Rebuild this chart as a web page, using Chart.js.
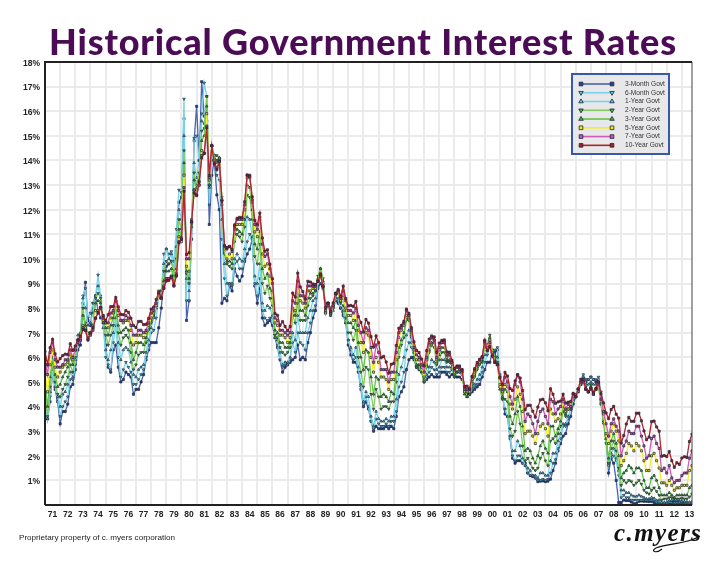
<!DOCTYPE html>
<html>
<head>
<meta charset="utf-8">
<title>Historical Government Interest Rates</title>
<script src="https://cdn.jsdelivr.net/npm/chart.js@4"></script>
<style>
    html, body { margin: 0; background: #fff; }
    #page { position: relative; width: 722px; height: 561px; overflow: hidden; }
    #page canvas { position: absolute; left: 0; top: 0; }
    h1 {
        position: absolute; left: 49px; top: 19px; margin: 0;
        font: 900 36px Lato, sans-serif; letter-spacing: 0.85px;
        color: #4b0b55; white-space: nowrap;
    }
    #footer {
        position: absolute; left: 19px; top: 533px;
        font: 8.1px "Liberation Sans", sans-serif; color: #222;
    }
    #sign {
        position: absolute; left: 614px; top: 519px;
        font: italic bold 25px "Liberation Serif", serif; letter-spacing: 1.4px; color: #111;
        white-space: nowrap;
    }
    #swash { position: absolute; left: 600px; top: 525px; }
</style>
</head>
<body>
<div id="page">
    <canvas id="rates" width="722" height="561"></canvas>
    <h1>Historical Government Interest Rates</h1>
    <div id="footer">Proprietary property of c. myers corporation</div>
    <div id="sign">c.myers</div>
    <svg id="swash" width="110" height="30"><path d="M62 24 C 56 29 50 26 56 23 C 70 18 88 19 100 11" fill="none" stroke="#111" stroke-width="1.2"/></svg>
</div>

<script>
// One value every two months (Jan, Mar, May, Jul, Sep, Nov), Jan 1971 to Sep 2013
var firstYear = 1971;
var lastMonthPos = 2013 + 8 / 12;

var seriesNames = ["3-Month Govt", "6-Month Govt", "1-Year Govt", "2-Year Govt", "3-Year Govt", "5-Year Govt", "7-Year Govt", "10-Year Govt"];

var rate3m = [
    4.4,3.5,4.2,5.4,4.7,4.2, 3.3,3.8,3.8,4.1,4.8,4.9, 5.5,6.3,6.5,8.2,9.05,7.5, 7.3,8.2,8.5,7.9,7.6,7.7,
    6.5,5.6,5.4,6.3,6.5,5.6, 5.0,5.1,5.4,5.3,5.2,4.5, 4.7,4.7,5.0,5.3,5.9,6.3, 6.6,6.6,6.6,7.2,8.0,9.1,
    9.7,9.8,9.9,9.6,10.7,12.3, 12.5,15.7,7.5,8.3,10.8,14.8, 16.2,14.0,17.2,15.8,15.6,11.4, 13.4,14.0,12.6,12.0,8.2,8.4,
    8.3,8.9,8.7,9.6,9.3,9.1, 9.3,9.9,10.2,10.4,10.8,8.9, 8.2,8.8,7.6,7.3,7.4,7.5, 7.3,6.8,6.4,5.9,5.4,5.6,
    5.7,5.8,5.9,6.0,6.5,5.9, 6.0,5.9,6.6,7.0,7.6,7.9, 8.8,9.0,8.8,8.2,8.2,8.0, 8.0,8.3,8.2,8.0,7.7,7.4,
    6.5,6.1,5.8,5.8,5.4,4.7, 4.0,4.2,3.9,3.4,3.0,3.2, 3.1,3.1,3.1,3.2,3.1,3.2, 3.1,3.6,4.4,4.6,4.8,5.5,
    5.9,6.0,5.9,5.6,5.5,5.6, 5.2,5.1,5.2,5.3,5.2,5.2, 5.2,5.4,5.4,5.3,5.2,5.3, 5.3,5.2,5.2,5.1,4.8,4.5,
    4.5,4.6,4.7,4.8,4.9,5.2, 5.5,5.8,5.8,6.2,6.2,6.3, 5.3,4.5,3.7,3.6,2.7,1.9, 1.7,1.8,1.8,1.7,1.7,1.3,
    1.2,1.15,1.1,0.95,0.97,0.98, 0.95,0.97,1.05,1.4,1.7,2.2, 2.5,2.8,2.9,3.3,3.6,4.1, 4.4,4.6,4.9,5.2,5.0,5.1,
    5.2,5.1,5.0,5.1,4.4,3.6, 2.8,1.3,1.9,1.7,1.0,0.1, 0.1,0.2,0.18,0.18,0.12,0.05, 0.06,0.15,0.16,0.15,0.15,0.14,
    0.15,0.1,0.05,0.04,0.02,0.01, 0.03,0.08,0.09,0.1,0.1,0.09, 0.07,0.08,0.05,0.04,0.02
];
var rate6m = [
    3.9,3.5,4.4,5.4,4.8,4.3, 3.6,4.0,4.2,4.4,5.1,5.1, 5.7,6.5,6.8,8.5,8.8,7.6, 7.8,8.2,8.5,9.35,8.5,7.5,
    6.0,5.7,5.5,6.6,7.3,6.0, 5.2,5.5,5.8,5.6,5.4,4.9, 4.9,5.1,5.3,5.5,6.0,6.5, 7.0,7.1,7.6,8.4,8.5,10.2,
    10.4,10.2,10.3,9.9,11.2,12.8, 12.7,16.5,8.3,8.3,11.3,14.9, 15.0,14.0,15.9,17.15,16.6,12.2, 14.0,14.2,13.4,13.2,10.8,9.2,
    8.5,9.0,8.9,9.8,9.9,9.6, 9.6,10.0,10.7,11.0,10.8,9.0, 8.5,9.2,7.9,7.6,7.5,7.6, 7.6,6.9,6.5,5.9,5.6,5.7,
    5.7,5.9,6.6,6.2,7.0,6.6, 6.5,6.3,7.0,7.4,7.9,8.1, 8.9,9.3,9.0,8.1,8.2,8.0, 8.0,8.4,8.3,8.0,7.8,7.5,
    6.7,6.3,5.9,6.0,5.4,4.8, 4.1,4.4,4.0,3.4,3.1,3.5, 3.3,3.2,3.2,3.3,3.2,3.4, 3.4,3.8,4.8,5.0,5.4,6.3,
    6.6,6.4,6.0,5.6,5.5,5.5, 5.0,5.2,5.4,5.6,5.5,5.3, 5.4,5.6,5.6,5.4,5.4,5.5, 5.3,5.4,5.4,5.3,4.8,4.6,
    4.5,4.7,4.8,4.9,5.1,5.4, 5.8,6.1,6.4,6.3,6.3,6.4, 5.2,4.5,3.9,3.6,2.8,2.0, 1.8,2.0,2.0,1.7,1.6,1.3,
    1.2,1.2,1.1,1.0,1.0,1.05, 1.0,1.05,1.3,1.7,1.85,2.3, 2.7,3.2,3.2,3.5,3.9,4.3, 4.5,4.7,5.0,5.3,5.1,5.1,
    5.2,5.1,5.1,5.2,4.6,3.8, 2.8,1.6,2.0,2.0,1.8,1.2, 0.3,0.4,0.3,0.3,0.2,0.2, 0.2,0.2,0.2,0.2,0.2,0.2,
    0.2,0.17,0.1,0.1,0.05,0.05, 0.05,0.12,0.11,0.1,0.1,0.1, 0.1,0.1,0.08,0.08,0.05
];
var rate1y = [
    4.2,3.5,4.6,5.5,4.8,4.4, 4.0,4.5,4.6,4.9,5.4,5.2, 5.9,6.9,7.0,8.4,8.0,7.3, 7.4,7.8,8.5,8.9,8.3,7.2,
    6.3,5.9,6.3,7.0,7.6,6.6, 5.9,6.3,6.4,6.3,5.8,5.3, 5.2,5.5,5.6,5.7,6.2,6.7, 7.2,7.6,8.0,8.6,8.7,9.8,
    10.4,10.0,10.2,9.5,10.5,12.0, 11.6,15.0,9.2,8.7,11.3,13.9, 13.3,14.0,15.6,15.5,16.6,12.9, 14.6,14.2,13.9,14.1,11.6,9.8,
    9.0,9.0,9.0,10.0,10.2,10.0, 9.9,10.4,11.7,11.6,10.9,9.3, 9.0,9.8,8.2,7.9,8.1,8.0, 7.7,6.8,6.7,6.2,5.7,5.8,
    5.8,6.0,7.0,6.7,7.7,7.0, 7.0,7.0,7.6,7.9,8.3,8.4, 9.1,9.5,9.0,7.9,8.2,7.7, 7.9,8.3,8.4,8.0,7.9,7.4,
    6.7,6.4,6.1,6.4,5.6,4.9, 4.2,4.6,4.4,3.6,3.2,3.8, 3.5,3.4,3.4,3.5,3.4,3.6, 3.6,4.3,5.3,5.6,6.0,6.9,
    7.1,6.6,6.0,5.6,5.6,5.4, 5.0,5.3,5.6,5.9,5.8,5.5, 5.6,5.9,5.9,5.6,5.6,5.6, 5.2,5.4,5.4,5.4,4.7,4.4,
    4.5,4.8,4.9,5.1,5.3,5.6, 6.1,6.3,6.6,6.2,6.1,6.0, 4.8,4.3,3.9,3.6,2.8,2.2, 2.2,2.6,2.4,1.9,1.6,1.5,
    1.4,1.2,1.2,1.1,1.3,1.3, 1.2,1.2,1.8,2.1,2.1,2.6, 2.9,3.3,3.3,3.6,3.9,4.3, 4.4,4.7,4.9,5.2,4.9,4.9,
    5.0,4.9,4.9,5.0,4.3,3.5, 2.7,1.7,2.1,2.3,1.9,1.4, 0.6,0.6,0.5,0.5,0.4,0.35, 0.35,0.4,0.35,0.3,0.25,0.25,
    0.3,0.27,0.19,0.2,0.1,0.1, 0.12,0.18,0.19,0.19,0.18,0.18, 0.15,0.15,0.12,0.12,0.13
];
var rate2y = [
    4.5,3.6,4.8,5.8,5.0,4.5, 4.4,4.7,4.9,5.2,5.7,5.4, 6.0,6.7,6.9,8.0,7.4,7.0, 7.0,7.3,8.4,8.6,8.4,7.4,
    6.9,6.5,6.9,7.3,8.1,7.0, 6.5,6.8,6.9,6.8,6.2,5.5, 5.7,6.1,6.2,6.2,6.6,7.1, 7.4,7.7,8.2,8.7,8.7,9.5,
    9.9,9.8,9.9,9.3,10.0,11.6, 11.2,14.4,9.4,9.0,11.4,13.5, 13.0,13.5,15.2,15.3,16.6,13.0, 14.6,14.2,14.2,14.1,12.5,10.2,
    9.8,9.7,9.6,10.7,11.0,10.9, 10.7,11.3,12.6,12.5,11.6,10.1, 9.8,10.6,9.0,8.6,8.9,8.4, 8.1,6.9,6.8,6.4,6.2,6.1,
    6.2,6.4,7.7,7.4,8.2,7.5, 7.5,7.5,8.1,8.4,8.5,8.7, 9.3,9.6,9.2,7.8,8.2,7.7, 8.0,8.5,8.6,8.2,8.1,7.6,
    7.0,7.0,6.7,7.1,6.0,5.4, 4.8,5.6,5.5,4.5,3.9,4.7, 4.4,3.9,4.0,4.0,3.9,4.2, 4.2,5.0,6.0,6.5,6.8,7.5,
    7.5,6.8,6.0,5.6,5.7,5.4, 5.0,5.6,6.2,6.5,6.4,5.7, 5.9,6.2,6.2,5.8,5.8,5.7, 5.2,5.4,5.5,5.4,4.6,4.4,
    4.5,4.9,5.2,5.5,5.7,5.8, 6.4,6.5,6.9,6.3,6.0,5.8, 4.8,4.3,4.3,4.2,3.1,2.8, 3.0,3.8,3.3,2.4,1.8,1.9,
    1.7,1.5,1.4,1.5,1.9,2.1, 1.8,1.6,2.6,2.7,2.5,2.9, 3.2,3.8,3.6,3.9,3.9,4.4, 4.4,4.7,4.9,5.1,4.8,4.6,
    4.9,4.6,4.7,4.8,4.1,3.3, 2.5,1.7,2.3,2.6,2.2,1.5, 0.8,1.0,0.9,1.0,0.95,0.8, 0.9,1.0,0.85,0.6,0.5,0.45,
    0.6,0.7,0.55,0.4,0.2,0.25, 0.25,0.3,0.3,0.25,0.25,0.25, 0.27,0.25,0.25,0.33,0.45
];
var rate3y = [
    4.9,4.0,5.2,6.0,5.3,4.8, 4.9,5.2,5.4,5.6,6.0,5.7, 6.3,6.7,6.8,7.7,7.3,6.9, 7.0,7.3,8.2,8.3,8.2,7.4,
    7.2,6.9,7.3,7.6,8.3,7.3, 7.0,7.1,7.2,7.1,6.6,5.9, 6.2,6.6,6.6,6.5,6.8,7.2, 7.5,7.7,8.1,8.6,8.5,9.1,
    9.5,9.5,9.6,9.1,9.6,11.2, 10.9,13.9,9.5,9.2,11.5,13.2, 12.9,13.2,14.8,15.0,16.2,13.0, 14.6,14.1,14.0,14.1,12.4,10.3,
    9.9,9.9,9.8,11.0,11.2,11.1, 11.0,11.6,13.0,12.9,12.0,10.6, 10.4,11.1,9.6,9.2,9.4,8.8, 8.4,7.1,7.0,6.6,6.6,6.4,
    6.4,6.6,7.9,7.7,8.6,7.9, 7.9,7.7,8.4,8.6,8.6,8.7, 9.2,9.6,9.1,7.8,8.2,7.8, 8.1,8.6,8.7,8.3,8.4,7.9,
    7.4,7.4,7.2,7.5,6.6,6.0, 5.5,6.3,6.2,5.2,4.5,5.2, 5.1,4.4,4.5,4.4,4.2,4.6, 4.5,5.4,6.4,6.7,7.0,7.6,
    7.6,6.9,6.2,5.7,5.7,5.4, 5.1,5.7,6.3,6.6,6.6,5.8, 6.1,6.4,6.4,5.9,5.9,5.8, 5.3,5.4,5.5,5.4,4.5,4.4,
    4.5,5.0,5.3,5.6,5.8,5.9, 6.6,6.5,6.8,6.2,5.9,5.7, 4.7,4.4,4.7,4.6,3.6,3.3, 3.7,4.4,4.0,3.2,2.2,2.3,
    2.2,1.9,1.7,2.0,2.4,2.6, 2.3,2.1,3.2,3.2,2.8,3.1, 3.4,4.0,3.7,3.9,3.9,4.4, 4.4,4.7,4.9,5.0,4.7,4.6,
    4.8,4.5,4.7,4.8,4.1,3.4, 2.7,1.9,2.6,2.9,2.5,2.0, 1.1,1.3,1.4,1.6,1.5,1.3, 1.5,1.5,1.4,1.0,0.7,0.7,
    1.1,1.2,1.0,0.7,0.4,0.4, 0.4,0.5,0.4,0.3,0.4,0.4, 0.4,0.4,0.4,0.7,0.8
];
var rate5y = [
    5.4,4.6,5.7,6.3,5.6,5.2, 5.4,5.6,5.7,5.8,6.1,5.9, 6.3,6.6,6.7,7.3,7.2,6.8, 7.0,7.2,7.9,7.9,8.0,7.5,
    7.4,7.2,7.6,7.8,8.3,7.7, 7.5,7.4,7.5,7.5,7.1,6.5, 6.6,6.9,6.9,6.8,7.0,7.3, 7.6,7.8,8.1,8.5,8.4,8.8,
    9.2,9.2,9.3,8.9,9.4,10.9, 10.7,13.4,9.7,9.5,11.6,12.8, 12.8,13.0,14.4,14.3,15.9,13.2, 14.6,14.0,13.7,14.0,12.2,10.4,
    10.0,10.2,10.0,11.2,11.4,11.4, 11.4,12.0,13.3,13.3,12.3,11.1, 10.9,11.6,10.2,9.7,9.8,9.3, 8.7,7.4,7.3,6.9,6.9,6.8,
    6.6,6.8,8.0,7.9,8.9,8.3, 8.2,8.0,8.7,8.7,8.8,8.8, 9.1,9.4,8.9,7.8,8.1,7.8, 8.1,8.6,8.7,8.3,8.5,8.0,
    7.7,7.7,7.5,7.9,7.1,6.6, 6.2,7.0,6.9,6.0,5.4,6.0, 5.8,5.2,5.2,5.1,4.7,5.1, 5.1,5.9,6.8,7.1,7.3,7.7,
    7.7,7.0,6.3,5.9,5.9,5.6, 5.2,5.9,6.5,6.8,6.7,5.9, 6.3,6.6,6.6,6.0,6.1,5.8, 5.4,5.6,5.6,5.5,4.6,4.6,
    4.6,5.1,5.4,5.7,5.8,6.0, 6.6,6.4,6.7,6.2,5.8,5.7, 4.9,4.6,4.9,4.8,4.1,3.9, 4.3,4.8,4.5,3.8,2.9,3.0,
    3.0,2.8,2.5,2.9,3.2,3.3, 3.1,2.8,3.9,3.7,3.4,3.5, 3.7,4.2,3.8,3.9,4.0,4.5, 4.4,4.7,5.0,5.0,4.7,4.6,
    4.7,4.5,4.7,4.9,4.2,3.7, 2.9,2.5,3.0,3.3,3.0,2.6, 1.6,1.8,2.1,2.5,2.4,2.2, 2.5,2.4,2.2,1.8,1.4,1.4,
    2.0,2.1,1.8,1.5,0.9,0.9, 0.8,1.0,0.8,0.6,0.7,0.7, 0.8,0.8,0.8,1.4,1.6
];
var rate7y = [
    5.9,5.3,6.2,6.6,5.9,5.6, 5.6,5.7,5.9,5.9,6.3,6.0, 6.3,6.6,6.7,7.2,7.1,6.7, 6.9,7.1,7.6,7.8,8.0,7.6,
    7.4,7.4,7.8,7.9,8.3,7.9, 7.5,7.5,7.7,7.6,7.3,6.9, 6.9,7.1,7.1,7.0,7.1,7.4, 7.8,7.9,8.2,8.6,8.4,8.9,
    9.2,9.2,9.3,8.9,9.3,10.7, 10.8,12.9,10.0,10.0,11.5,12.8, 12.6,13.0,14.2,14.3,15.4,13.3, 14.6,13.9,13.7,14.0,12.4,10.5,
    10.4,10.5,10.3,11.3,11.6,11.6, 11.6,12.2,13.4,13.4,12.4,11.4, 11.2,11.7,10.6,10.1,10.2,9.6, 9.0,7.6,7.5,7.1,7.1,7.0,
    6.9,7.0,8.3,8.2,9.1,8.5, 8.5,8.2,8.9,8.9,8.9,8.9, 9.1,9.3,8.9,7.9,8.1,7.8, 8.1,8.6,8.7,8.4,8.7,8.3,
    7.9,7.9,7.8,8.0,7.3,7.0, 6.6,7.2,7.1,6.4,5.8,6.5, 6.2,5.5,5.5,5.5,5.0,5.4, 5.4,6.2,7.0,7.2,7.4,7.9,
    7.7,7.1,6.4,6.1,6.0,5.7, 5.4,6.0,6.6,6.8,6.7,6.0, 6.4,6.6,6.6,6.1,6.1,5.8, 5.5,5.6,5.6,5.5,4.7,4.7,
    4.7,5.2,5.5,5.7,5.9,6.0, 6.7,6.3,6.6,6.1,5.8,5.7, 5.2,4.7,5.2,5.0,4.4,4.1, 4.9,5.3,5.0,4.3,3.4,3.7,
    3.6,3.3,2.9,3.4,3.8,3.9, 3.6,3.3,4.3,4.2,3.7,3.9, 4.0,4.3,3.9,4.1,4.0,4.5, 4.4,4.7,5.0,5.0,4.7,4.6,
    4.7,4.5,4.7,4.9,4.3,3.8, 3.3,2.8,3.3,3.5,3.2,3.0, 2.0,2.4,2.6,3.0,2.9,2.9, 3.2,3.2,2.8,2.4,1.9,2.0,
    2.7,2.8,2.5,2.3,1.4,1.5, 1.3,1.6,1.1,0.9,1.0,1.0, 1.2,1.3,1.3,1.9,2.2
];
var rate10y = [
    6.24,5.7,6.39,6.73,6.14,5.81, 5.95,6.07,6.13,6.11,6.55,6.28, 6.46,6.71,6.85,7.13,7.09,6.73, 6.99,7.21,7.58,7.81,8.04,7.68,
    7.5,7.73,8.06,8.06,8.43,8.05, 7.74,7.73,7.9,7.83,7.59,7.29, 7.21,7.46,7.46,7.33,7.34,7.58, 7.96,8.04,8.35,8.64,8.42,8.81,
    9.1,9.12,9.25,8.95,9.33,10.65, 10.8,12.75,10.18,10.25,11.51,12.68, 12.57,13.12,14.1,14.28,15.32,13.39, 14.59,13.86,13.62,13.95,12.34,10.55,
    10.46,10.51,10.38,11.38,11.65,11.69, 11.67,12.32,13.41,13.36,12.52,11.57, 11.38,11.86,10.85,10.31,10.37,9.78, 9.19,7.78,7.71,7.3,7.45,7.25,
    7.08,7.25,8.61,8.45,9.42,8.86, 8.67,8.37,9.09,9.06,8.98,8.96, 9.09,9.36,8.86,8.02,8.19,7.87, 8.21,8.59,8.76,8.47,8.89,8.39,
    8.09,8.11,8.07,8.27,7.65,7.42, 7.03,7.54,7.39,6.84,6.42,6.87, 6.6,5.98,6.04,5.81,5.36,5.72, 5.75,6.48,7.18,7.3,7.46,7.96,
    7.78,7.2,6.63,6.28,6.2,5.93, 5.65,6.27,6.74,6.87,6.83,6.2, 6.58,6.69,6.71,6.22,6.21,5.88, 5.54,5.65,5.65,5.46,4.81,4.83,
    4.72,5.23,5.54,5.79,5.92,6.03, 6.66,6.26,6.44,6.05,5.8,5.72, 5.16,4.89,5.39,5.24,4.73,4.65, 5.04,5.28,5.16,4.65,3.87,4.05,
    4.05,3.81,3.57,3.98,4.27,4.3, 4.15,3.83,4.72,4.5,4.13,4.19, 4.22,4.5,4.14,4.18,4.2,4.54, 4.42,4.72,5.11,5.09,4.72,4.6,
    4.76,4.56,4.75,5.0,4.52,4.15, 3.74,3.51,3.88,4.01,3.69,3.53, 2.52,2.82,3.29,3.56,3.4,3.4, 3.73,3.73,3.42,3.01,2.65,2.76,
    3.39,3.41,3.17,3.0,1.98,2.01, 1.97,2.17,1.8,1.53,1.72,1.65, 1.91,1.96,1.93,2.58,2.88
];

var allRates = [rate3m, rate6m, rate1y, rate2y, rate3y, rate5y, rate7y, rate10y];

// x positions in decimal years, one per reading
var labels = rate3m.map(function (v, i) { return firstYear + i / 6; });

var lineColors = ["#4a64ad", "#78d3e6", "#78d3e6", "#84cb5f", "#62c44a", "#f4ee2a", "#cf5cb8", "#a8282c"];
var fillColors = ["#28449c", "#5cc8df", "#5cc8df", "#4fae3c", "#4fae3c", "#f2ea10", "#d44fb4", "#b01c24"];
var markerShapes = ["rect", "triangle", "triangle", "triangle", "triangle", "rect", "rect", "rect"];
var markerRotation = [0, 180, 0, 180, 0, 0, 0, 0];

var datasets = seriesNames.map(function (name, i) {
    return {
        label: name,
        data: allRates[i],
        borderColor: lineColors[i],
        borderWidth: 1.3,
        backgroundColor: fillColors[i],
        pointStyle: markerShapes[i],
        pointRotation: markerRotation[i],
        pointRadius: 1.5,
        pointBorderColor: "#1c2438",
        pointBorderWidth: 0.7,
        pointBackgroundColor: fillColors[i],
        tension: 0,
        // 10-year ends up on top
        order: seriesNames.length - i
    };
});

// Frame round the plot, and the boxed legend with a line and two markers per row
var framePlugin = {
    id: "frame",
    afterDraw: function (chart) {
        var ctx = chart.ctx;
        var a = chart.chartArea;
        ctx.save();
        ctx.strokeStyle = "#444";
        ctx.lineWidth = 1;
        ctx.beginPath();
        ctx.moveTo(a.right, a.top);
        ctx.lineTo(a.right, a.bottom);
        ctx.stroke();
        ctx.strokeStyle = "#222";
        ctx.lineWidth = 2;
        ctx.beginPath();
        ctx.moveTo(a.left, a.bottom);
        ctx.lineTo(a.left, a.top);
        ctx.lineTo(a.right, a.top);
        ctx.moveTo(a.left, a.bottom);
        ctx.lineTo(a.right, a.bottom);
        ctx.stroke();

        ctx.fillStyle = "#e8e8ea";
        ctx.strokeStyle = "#3a57a8";
        ctx.fillRect(572, 74, 97, 80);
        ctx.strokeRect(572, 74, 97, 80);
        ctx.font = "6.6px 'Liberation Sans', sans-serif";
        ctx.textBaseline = "middle";
        chart.data.datasets.forEach(function (ds, i) {
            var y = 84 + i * 8.76;
            ctx.strokeStyle = ds.borderColor;
            ctx.lineWidth = 1.6;
            ctx.beginPath();
            ctx.moveTo(581, y);
            ctx.lineTo(612, y);
            ctx.stroke();
            [581, 612].forEach(function (x) {
                ctx.fillStyle = ds.backgroundColor;
                ctx.strokeStyle = "#1c2438";
                ctx.lineWidth = 0.8;
                Chart.helpers.drawPoint(ctx, { pointStyle: ds.pointStyle, rotation: ds.pointRotation, radius: 2.6, borderWidth: 0.8 }, x, y);
            });
            ctx.fillStyle = "#333";
            ctx.fillText(ds.label, 625, y);
        });
        ctx.restore();
    }
};

new Chart(document.getElementById("rates"), {
    type: "line",
    data: { labels: labels, datasets: datasets },
    plugins: [framePlugin],
    options: {
        responsive: false,
        animation: false,
        layout: { padding: { top: 62, right: 30, left: 0, bottom: 0 } },
        plugins: { legend: { display: false }, title: { display: false }, tooltip: { enabled: false } },
        scales: {
            x: {
                type: "linear",
                min: firstYear,
                max: lastMonthPos,
                afterFit: function (scale) { scale.height = 56; },
                grid: { color: "#ebebeb", lineWidth: 2, drawTicks: false },
                border: { display: false },
                ticks: {
                    stepSize: 1,
                    includeBounds: false,
                    autoSkip: false,
                    maxRotation: 0,
                    labelOffset: 7.6,
                    padding: 5,
                    color: "#222",
                    font: { family: "'Liberation Sans', sans-serif", size: 8.5, weight: "bold" },
                    callback: function (value) { return String(value).slice(2); }
                }
            },
            y: {
                min: 0,
                max: 18,
                afterFit: function (scale) { scale.width = 45; },
                grid: { color: "#ebebeb", lineWidth: 2, drawTicks: false },
                border: { display: false },
                ticks: {
                    stepSize: 1,
                    padding: 5,
                    labelOffset: 1.5,
                    color: "#222",
                    font: { family: "'Liberation Sans', sans-serif", size: 8.5, weight: "bold" },
                    callback: function (value) { return value === 0 ? "" : value + "%"; }
                }
            }
        }
    }
});
</script>
</body>
</html>
